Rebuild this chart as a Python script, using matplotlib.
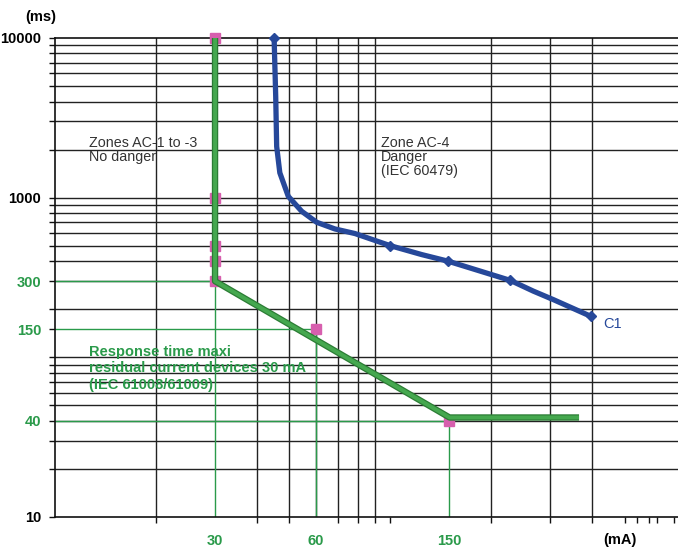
import numpy as np
import matplotlib.pyplot as plt

plt.rcParams['font.family'] = ['Liberation Sans', 'DejaVu Sans']

# Curva C1 (IEC 60479)
c1_ma = [45.0, 45.5, 45.8, 46.8, 49.6, 54.4, 60.3, 68.3, 78.4, 99.7, 124, 148.6, 200, 228, 266.5, 305.8, 395]
c1_ms = [10000, 4300, 2093, 1432, 1019, 821, 701, 637, 596, 501, 440, 400, 330, 303, 260, 230, 181]
c1_mark_ma = [45.0, 99.7, 148.6, 228, 395]
c1_mark_ms = [10000, 501, 400, 303, 181]

# Tiempo de respuesta maximo, diferencial 30 mA
resp_ma = [30, 30, 150, 365]
resp_ms = [10000, 300, 42, 42]
puntos_ma = [30, 30, 30, 30, 30, 60, 150]
puntos_ms = [10000, 1000, 500, 400, 300, 150, 40]

# Rejilla
rejilla_x = [20, 40, 50, 60, 70, 80, 90, 200, 300, 400]
rejilla_y = [20, 30, 40, 50, 60, 70, 80, 90, 100, 200, 300, 400, 500, 600, 700, 800, 900,
             1000, 2000, 3000, 4000, 5000, 6000, 7000, 8000, 9000]

ticks_x = [30, 60, 150]
ticks_y = [10, 40, 150, 300, 1000, 10000]
etiquetas_y = ['10', '40', '150', '300', '1000', '10000']
verdes_y = [40, 150, 300]
ticks_x_menores = [20, 40, 50, 70, 80, 90, 100, 200, 300, 400, 500, 545, 590, 625, 700]

verde = '#2a9a4a'
verde_claro = '#45a84f'
verde_oscuro = '#2c7d35'
azul = '#26489a'
rosa = '#d75fae'

fig = plt.figure(figsize=(6.78, 5.49), dpi=100)
ax = fig.add_axes([55 / 678, 32 / 549, 623 / 678, 479 / 549])
ax.set_xscale('log')
ax.set_yscale('log')
ax.set_xlim(10, 720)
ax.set_ylim(10, 10000)

# Lineas de rejilla negras
for v in rejilla_x:
    ax.axvline(v, color='#222222', lw=1.0, zorder=1)
for v in rejilla_y:
    ax.axhline(v, color='#222222', lw=1.0, zorder=1)

# Lineas guia verdes
ax.plot([10, 30], [300, 300], color=verde, lw=1.0, zorder=2)
ax.plot([10, 60], [150, 150], color=verde, lw=1.0, zorder=2)
ax.plot([10, 150], [40, 40], color=verde, lw=1.0, zorder=2)
ax.plot([30, 30], [10, 300], color=verde, lw=1.0, zorder=2)
ax.plot([60, 60], [10, 150], color=verde, lw=1.0, zorder=2)
ax.plot([150, 150], [10, 40], color=verde, lw=1.0, zorder=2)

# Puntos rosas y curva verde
ax.plot(puntos_ma, puntos_ms, 's', color=rosa, ms=6.8, zorder=3, clip_on=False)
ax.plot(resp_ma, resp_ms, color=verde_oscuro, lw=4.6, zorder=4, solid_capstyle='butt')
ax.plot(resp_ma, resp_ms, color=verde_claro, lw=2.8, zorder=5, solid_capstyle='butt')

# Curva C1
ax.plot(c1_ma, c1_ms, color=azul, lw=3.8, zorder=6, solid_capstyle='round')
ax.plot(c1_mark_ma, c1_mark_ms, 'D', color=azul, ms=5, zorder=6, clip_on=False)

# Ejes
ax.spines['right'].set_visible(False)
for lado in ['left', 'bottom', 'top']:
    ax.spines[lado].set_color('#111111')
    ax.spines[lado].set_linewidth(1.2)

ax.set_yticks(ticks_y)
ax.set_yticklabels(etiquetas_y)
ax.set_yticks(rejilla_y, minor=True)
ax.set_xticks(ticks_x)
ax.set_xticklabels([str(v) for v in ticks_x])
ax.set_xticks(ticks_x_menores, minor=True)
ax.xaxis.set_minor_formatter(plt.NullFormatter())
ax.yaxis.set_minor_formatter(plt.NullFormatter())
ax.tick_params(axis='y', which='both', direction='out', length=4, width=1, pad=6, color='#111111')
ax.tick_params(axis='x', which='both', direction='out', length=4, width=1, pad=12, color='#111111')
ax.tick_params(axis='x', which='major', length=0)
for lbl in ax.get_yticklabels():
    lbl.set_fontsize(10.5)
    lbl.set_fontweight('bold')
    if float(lbl.get_text()) in verdes_y:
        lbl.set_color(verde)
for lbl in ax.get_xticklabels():
    lbl.set_fontsize(10.5)
    lbl.set_fontweight('bold')
    lbl.set_color(verde)

# Textos
ax.text(12.6, 2440, 'Zones AC-1 to -3\nNo danger', fontsize=10.3, color='#333333',
        va='top', ha='left', linespacing=1.0, zorder=7)
ax.text(93.8, 2440, 'Zone AC-4\nDanger\n(IEC 60479)', fontsize=10.3, color='#333333',
        va='top', ha='left', linespacing=1.0, zorder=7)
ax.text(12.6, 120, 'Response time maxi\nresidual current devices 30 mA\n(IEC 61008/61009)',
        fontsize=10.5, fontweight='bold', color=verde, va='top', ha='left', linespacing=1.25, zorder=7)
ax.text(432, 161, 'C1', fontsize=10.5, color=azul, va='center', ha='left', zorder=7)

fig.text(41 / 678, 1 - 17 / 549, '(ms)', fontsize=10.5, fontweight='bold', ha='center', va='center')
fig.text(620 / 678, 1 - 540 / 549, '(mA)', fontsize=10.5, fontweight='bold', ha='center', va='center')

fig.savefig('out.png', dpi=100)
